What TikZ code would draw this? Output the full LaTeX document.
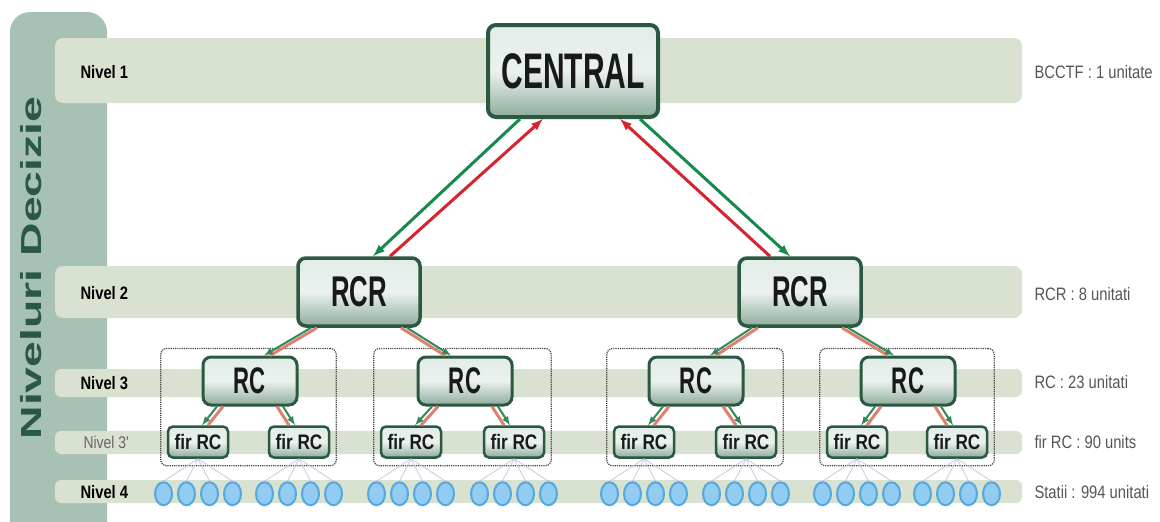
\documentclass[tikz,border=0pt]{standalone}
\usepackage{fontspec}
\setmainfont{Liberation Sans}
\newfontfamily\boxfont[FakeStretch=0.6]{Liberation Sans}
\newfontfamily\narrowfont[FakeStretch=0.82]{Liberation Sans}
\newfontfamily\widefont[FakeStretch=1.6]{Liberation Sans}
\usepackage{tikz}
\usetikzlibrary{calc,arrows,positioning,fit,shapes.geometric}
\usepackage{xcolor}

\definecolor{panelgreen}{RGB}{168,193,181}
\definecolor{bandgray}{RGB}{217,225,208}
\definecolor{boxedge}{RGB}{42,88,64}
\definecolor{boxlight}{RGB}{226,236,231}
\definecolor{boxdark}{RGB}{143,172,157}
\definecolor{arrowgreen}{RGB}{22,138,76}
\definecolor{arrowred}{RGB}{214,36,46}
\definecolor{linkred}{RGB}{222,128,112}
\definecolor{linkgreen}{RGB}{46,138,88}
\definecolor{stationfill}{RGB}{146,204,240}
\definecolor{stationedge}{RGB}{84,168,222}
\definecolor{titlegreen}{RGB}{43,88,68}
\definecolor{notegray}{RGB}{85,85,85}
\definecolor{faintline}{RGB}{200,182,214}

\begin{document}
\begin{tikzpicture}[x=1pt, y=-1pt,
  unitbox/.style={draw=boxedge, rounded corners=8pt, top color=boxlight,
                  bottom color=boxdark, middle color=boxlight!70!white,
                  inner sep=0pt, text=black!90},
  centralbox/.style={unitbox, line width=4pt, minimum width=170pt, minimum height=92pt,
                     font=\boxfont\bfseries\fontsize{50}{52}\selectfont},
  rcrbox/.style={unitbox, line width=3.5pt, minimum width=122pt, minimum height=68pt,
                 font=\boxfont\bfseries\fontsize{43}{44}\selectfont},
  rcbox/.style={unitbox, line width=3pt, minimum width=94pt, minimum height=48pt,
                font=\boxfont\bfseries\fontsize{37}{38}\selectfont},
  firbox/.style={unitbox, line width=2.5pt, rounded corners=5pt, minimum width=60pt,
                 minimum height=31pt, font=\narrowfont\bfseries\fontsize{21}{22}\selectfont},
  group/.style={draw=black!75, densely dotted, line width=1.2pt, rounded corners=6pt,
                inner xsep=6pt, inner ysep=7pt},
  station/.style={ellipse, draw=stationedge, fill=stationfill, line width=2pt,
                  minimum width=17pt, minimum height=23pt, inner sep=0pt},
  level/.style={anchor=west, font=\narrowfont\bfseries\fontsize{18}{20}\selectfont},
  note/.style={anchor=west, text=notegray, font=\narrowfont\fontsize{18}{20}\selectfont},
  bigdown/.style={draw=arrowgreen, line width=3pt, -latex},
  bigup/.style={draw=arrowred, line width=3pt, -latex},
  linkdown/.style={draw=linkgreen, line width=2pt, -latex},
  linkup/.style={draw=linkred, line width=3pt}]
\useasboundingbox (0,0) rectangle (1160,522);

% side panel
\begin{scope}
\clip (0,0) rectangle (1160,522);
\fill[panelgreen, rounded corners=20pt] (10,12) rectangle (107,560);
\end{scope}

% level bands
\fill[bandgray, rounded corners=8pt] (55,38) rectangle (1022,103);
\fill[bandgray, rounded corners=8pt] (55,266) rectangle (1022,318);
\fill[bandgray, rounded corners=6pt] (55,369) rectangle (1022,397);
\fill[bandgray, rounded corners=6pt] (55,431) rectangle (1022,454);
\fill[bandgray, rounded corners=6pt] (55,480) rectangle (1022,503);

\node[rotate=90, anchor=base, text=titlegreen,
      font=\widefont\bfseries\fontsize{29}{30}\selectfont] (title) at (41,268) {Niveluri Decizie};

\node[level] (lv1) at (77,72) {Nivel 1};
\node[level] (lv2) at (77,293) {Nivel 2};
\node[level] (lv3) at (77,383) {Nivel 3};
\node[level, text=black!60, font=\narrowfont\fontsize{17}{20}\selectfont] (lv3b) at (80,442) {Nivel 3'};
\node[level] (lv4) at (77,492) {Nivel 4};

\node[note] (nt1) at (1031,72) {BCCTF : 1 unitate};
\node[note] (nt2) at (1031,294) {RCR : 8 unitati};
\node[note] (nt3) at (1031,382) {RC : 23 unitati};
\node[note] (nt3b) at (1031,442) {fir RC : 90 units};
\node[note] (nt4) at (1031,492) {Statii : 994 unitati};

% units
\node[centralbox] (central) at (573,71) {CENTRAL};
\node[rcrbox] (rcrL) at (359,292) {RCR};
\node[rcrbox] (rcrR) at (800,292) {RCR};

\node[rcbox] (rc1) at (250,381) {RC};
\node[rcbox] (rc2) at (465,381) {RC};
\node[rcbox] (rc3) at (696,381) {RC};
\node[rcbox] (rc4) at (908,381) {RC};

\node[firbox] (fir1) at (198,442) {fir RC};
\node[firbox] (fir2) at (299,442) {fir RC};
\node[firbox] (fir3) at (411,442) {fir RC};
\node[firbox] (fir4) at (514,442) {fir RC};
\node[firbox] (fir5) at (644,442) {fir RC};
\node[firbox] (fir6) at (746,442) {fir RC};
\node[firbox] (fir7) at (857,442) {fir RC};
\node[firbox] (fir8) at (957,442) {fir RC};

\node[group, fit=(rc1)(fir1)(fir2)] (grp1) {};
\node[group, fit=(rc2)(fir3)(fir4)] (grp2) {};
\node[group, fit=(rc3)(fir5)(fir6)] (grp3) {};
\node[group, fit=(rc4)(fir7)(fir8)] (grp4) {};

% stations
\foreach \f in {fir1,fir2,fir3,fir4,fir5,fir6,fir7,fir8}
  \foreach \dx [count=\i] in {-34.5,-11.5,11.5,34.5} {
    \node[station] (\f-\i) at ($(\f.south)+(\dx,35)$) {};
    \draw[faintline, line width=1pt, opacity=0.7] (\f.south) -- (\f-\i.north);
  }

% central <-> rcr
\draw[bigdown] ([xshift=-53pt]central.south) -- ([xshift=14pt]rcrL.north);
\draw[bigup] ([xshift=31pt]rcrL.north) -- ([xshift=-30pt]central.south);
\draw[bigup] ([xshift=-30pt]rcrR.north) -- ([xshift=47pt]central.south);
\draw[bigdown] ([xshift=67pt]central.south) -- ([xshift=-10pt]rcrR.north);

% rcr -> rc
\foreach \p/\c/\s in {rcrL/rc1/-1, rcrL/rc2/1, rcrR/rc3/-1, rcrR/rc4/1} {
  \draw[linkup] ([xshift={(\s)*42pt}]\p.south) -- ([xshift={-(\s)*20pt}]\c.north);
  \draw[linkdown] ([xshift={(\s)*48pt}]\p.south) -- ([xshift={-(\s)*14pt}]\c.north);
}

% rc -> fir rc
\foreach \p/\c/\s in {rc1/fir1/-1, rc1/fir2/1, rc2/fir3/-1, rc2/fir4/1,
                      rc3/fir5/-1, rc3/fir6/1, rc4/fir7/-1, rc4/fir8/1} {
  \draw[linkup] ([xshift={(\s)*27pt}]\p.south) -- ([xshift={-(\s)*10pt}]\c.north);
  \draw[linkdown] ([xshift={(\s)*33pt}]\p.south) -- ([xshift={-(\s)*4pt}]\c.north);
}
\end{tikzpicture}
\end{document}
